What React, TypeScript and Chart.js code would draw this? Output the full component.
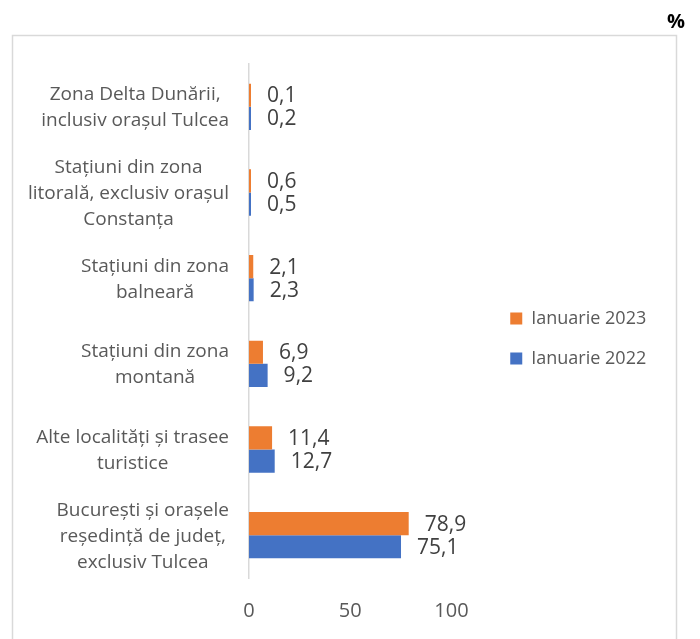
import React, { useEffect, useRef } from "react";
import { Chart, registerables } from "chart.js";

Chart.register(...registerables);

const categories: string[][] = [
  ["Zona Delta Dunării,", "inclusiv orașul Tulcea"],
  ["Stațiuni din zona", "litorală, exclusiv orașul", "Constanța"],
  ["Stațiuni din zona", "balneară"],
  ["Stațiuni din zona", "montană"],
  ["Alte localități și trasee", "turistice"],
  ["București și orașele", "reședință de județ,", "exclusiv Tulcea"],
];
const series2023: number[] = [0.1, 0.6, 2.1, 6.9, 11.4, 78.9];
const series2022: number[] = [0.2, 0.5, 2.3, 9.2, 12.7, 75.1];
const seriesNames: string[] = ["Ianuarie 2023", "Ianuarie 2022"];
const xTicks: number[] = [0, 50, 100];
const unitLabel = "%";

const FONT = "'Open Sans'";
const TEXT = "#595959";
const VALUE_TEXT = "#404040";

const framePlugin = {
  id: "frame",
  beforeDraw(chart: any) {
    const ctx = chart.ctx;
    ctx.save();
    ctx.fillStyle = "#ffffff";
    ctx.fillRect(0, 0, chart.width, chart.height);
    ctx.strokeStyle = "#d9d9d9";
    ctx.lineWidth = 1.5;
    ctx.strokeRect(12.5, 35.5, 664, 700);
    ctx.fillStyle = "#000000";
    ctx.font = `bold 20px ${FONT}`;
    ctx.textAlign = "right";
    ctx.textBaseline = "alphabetic";
    ctx.fillText(unitLabel, 685, 28);
    ctx.restore();
  },
};

const legendShiftPlugin = {
  id: "legendShift",
  afterLayout(chart: any) {
    const lg = chart.legend;
    if (lg) {
      lg.top -= 13;
      lg.bottom -= 13;
    }
  },
};

const labelsPlugin = {
  id: "catLabels",
  afterDraw(chart: any) {
    const ctx = chart.ctx;
    const yScale = chart.scales.y;
    ctx.save();
    ctx.font = `19px ${FONT}`;
    ctx.fillStyle = TEXT;
    ctx.textAlign = "center";
    ctx.textBaseline = "middle";
    const lh = 26;
    categories.forEach((lines, i) => {
      const yc = yScale.getPixelForTick(i) + 1;
      const w = Math.max(...lines.map((l) => ctx.measureText(l).width));
      const xc = 229 - w / 2;
      lines.forEach((l, j) => {
        ctx.fillText(l, xc, yc - ((lines.length - 1) * lh) / 2 + j * lh);
      });
    });
    ctx.restore();
  },
};

const valuePlugin = {
  id: "values",
  afterDatasetsDraw(chart: any) {
    const ctx = chart.ctx;
    ctx.save();
    ctx.font = `21px ${FONT}`;
    ctx.fillStyle = VALUE_TEXT;
    ctx.textAlign = "left";
    ctx.textBaseline = "middle";
    chart.data.datasets.forEach((ds: any, di: number) => {
      const meta = chart.getDatasetMeta(di);
      meta.data.forEach((el: any, i: number) => {
        const v = ds.data[i] as number;
        const txt = v.toFixed(1).replace(".", ",");
        ctx.fillText(txt, el.x + 16, el.y + 1);
      });
    });
    ctx.restore();
  },
};

export default function App() {
  const ref = useRef<HTMLCanvasElement | null>(null);
  useEffect(() => {
    if (!ref.current) return;
    const chart = new Chart(ref.current, {
      type: "bar",
      data: {
        labels: categories.map((c) => c.join(" ")),
        datasets: [
          {
            label: seriesNames[0],
            data: series2023,
            backgroundColor: "#ED7D31",
            minBarLength: 2,
          },
          {
            label: seriesNames[1],
            data: series2022,
            backgroundColor: "#4472C4",
            minBarLength: 2,
          },
        ],
      },
      options: {
        indexAxis: "y",
        responsive: false,
        animation: false,
        datasets: {
          bar: { categoryPercentage: 0.54, barPercentage: 1.0 },
        },
        layout: { padding: { top: 64, bottom: 0, right: 49, left: 0 } },
        scales: {
          x: {
            min: 0,
            max: 118.2,
            grid: { display: false, drawTicks: false },
            border: { display: false },
            afterBuildTicks: (scale: any) => {
              scale.ticks = xTicks.map((v) => ({ value: v }));
            },
            afterFit: (scale: any) => {
              scale.height = 61;
            },
            ticks: {
              padding: 21,
              color: TEXT,
              font: { family: FONT, size: 20 },
            },
          },
          y: {
            grid: { display: false, drawTicks: false },
            border: { display: true, color: "#d9d9d9", width: 1.5 },
            ticks: { display: false },
            afterFit: (scale: any) => {
              scale.width = 249;
            },
          },
        },
        plugins: {
          legend: {
            position: "right",
            labels: {
              boxWidth: 12,
              boxHeight: 12,
              padding: 22,
              color: TEXT,
              font: { family: FONT, size: 18 },
            },
          },
          tooltip: { enabled: false },
        },
      },
      plugins: [framePlugin, legendShiftPlugin, labelsPlugin, valuePlugin],
    });
    return () => chart.destroy();
  }, []);
  return (
    <div style={{ position: "absolute", left: 0, top: 0, width: 700, height: 639 }}>
      <canvas ref={ref} width={700} height={639} />
    </div>
  );
}
